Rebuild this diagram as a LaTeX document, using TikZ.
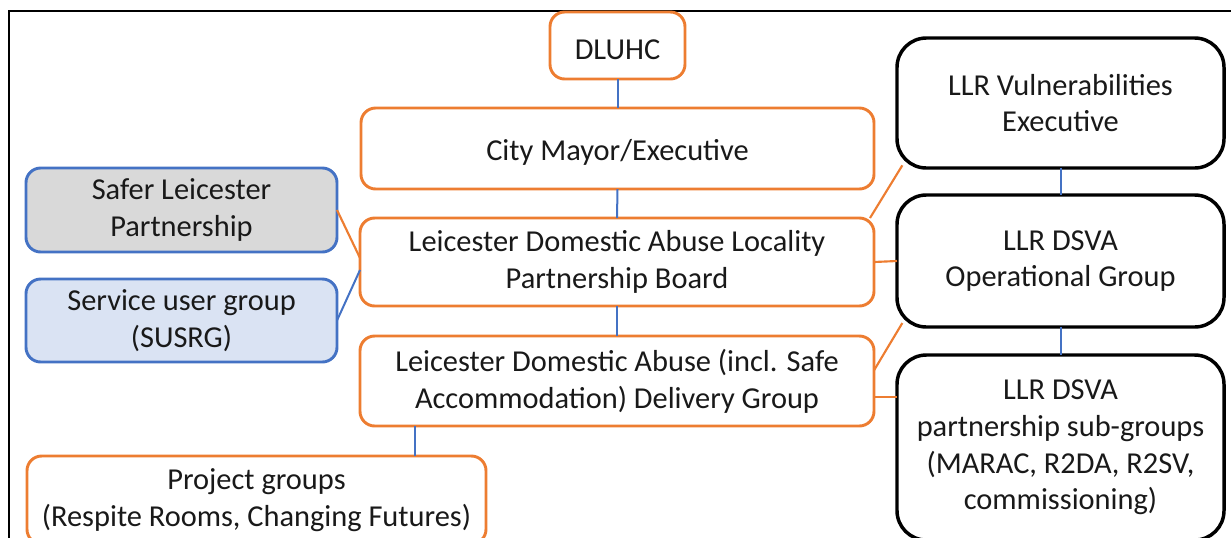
\documentclass[tikz,border=0pt]{standalone}
\usepackage{fontspec}
\setmainfont{Carlito}
\definecolor{orng}{HTML}{ED7D31}
\definecolor{blu}{HTML}{4472C4}
\definecolor{gryfill}{HTML}{D9D9D9}
\definecolor{lbfill}{HTML}{DAE3F3}
\begin{document}
\begin{tikzpicture}[x=0.75pt,y=-0.75pt,
  base/.style={rectangle, inner sep=0pt, outer sep=0pt, align=center,
    font=\fontsize{22.8}{27.6}\selectfont, text=black!90,
    execute at begin node={\rule{0pt}{21pt}}},
  obox/.style={base, draw=orng, line width=2.2pt, rounded corners=11pt, fill=white},
  bbox/.style={base, draw=blu, line width=2.2pt, rounded corners=11pt},
  kbox/.style={base, draw=black, line width=2.6pt, rounded corners=22pt, fill=white},
  sz/.style 2 args={minimum width={#1*0.75pt}, minimum height={#2*0.75pt}},
  bconn/.style={draw=blu, line width=1.5pt},
  oconn/.style={draw=orng, line width=1.6pt}]
\useasboundingbox (0,0) rectangle (1231,537);
\begin{scope}
\clip (0,0) rectangle (1231,537);
% frame
\draw[line width=2pt] (8,11) -- (1240,11);
\draw[line width=2pt] (9,11) -- (9,545);

\coordinate (pj) at (415,0);

% nodes
\node[obox, sz={135}{67}] (dluhc) at (617.5,45.5) {DLUHC};
\node[obox, sz={513}{81}] (mayor) at (617.5,148.5) {City Mayor/Executive};
\node[obox, sz={514}{88}] (board) at (617,262) {Leicester Domestic Abuse Locality\\Partnership Board};
\node[obox, sz={514}{90}] (deliv) at (617,381) {Leicester Domestic Abuse (incl. Safe\\Accommodation) Delivery Group};
\node[bbox, fill=gryfill, sz={311}{84}] (safer) at (181.5,210) {Safer Leicester\\Partnership};
\node[bbox, fill=lbfill, sz={311}{83}] (susrg) at (181.5,320.5) {Service user group\\(SUSRG)};
\node[obox, sz={459}{88}] (proj) at (256.5,500) {Project groups\\(Respite Rooms, Changing Futures)};
\node[kbox, sz={327}{130}] (vuln) at (1060.5,103) {LLR Vulnerabilities\\Executive};
\node[kbox, sz={327}{132}] (ops) at (1060.5,261) {LLR DSVA\\Operational Group};
\node[kbox, sz={327}{185}] (subg) at (1060.5,447.5) {LLR DSVA\\partnership sub-groups\\(MARAC, R2DA, R2SV,\\commissioning)};

% blue vertical connectors
\draw[bconn] (dluhc.south) -- (mayor.north);
\draw[bconn] (mayor.south) -- (board.north);
\draw[bconn] (board.south) -- (deliv.north);
\draw[bconn] (pj |- deliv.south) -- (pj |- proj.north);
\draw[bconn] (vuln.south) -- (ops.north);
\draw[bconn] (ops.south) -- (subg.north);

% side connectors
\draw[oconn] (safer.east) -- ([yshift=3pt]board.west);
\draw[bconn] (susrg.east) -- ([yshift=-6pt]board.west);
\draw[oconn] ([xshift=-3pt]board.north east) -- ([xshift=4pt,yshift=2pt]vuln.south west);
\draw[oconn] (board.east) -- (ops.west);
\coordinate (d1) at ([yshift=8pt]deliv.east);
\draw[oconn] (d1) -- ([xshift=4pt,yshift=3pt]ops.south west);
\coordinate (d2) at ([yshift=-12pt]deliv.east);
\draw[oconn] (d2) -- (d2 -| subg.west);
\end{scope}
\end{tikzpicture}
\end{document}
